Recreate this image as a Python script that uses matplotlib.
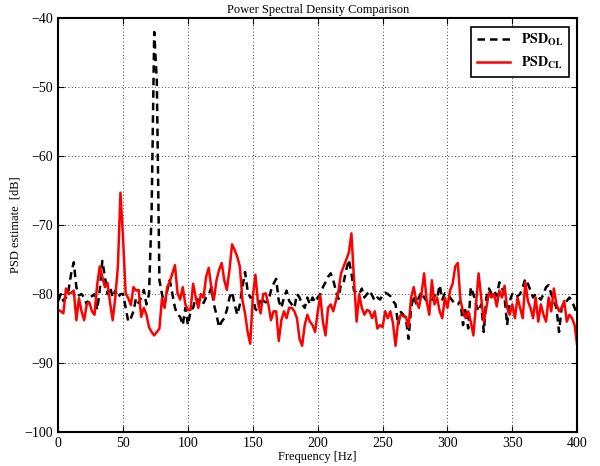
import numpy as np
import matplotlib
matplotlib.use("Agg")
import matplotlib.pyplot as plt

# frequency axis [Hz], 2 Hz bins
freq = np.arange(0, 401, 2)

# open loop PSD [dB]
psd_ol = [
    -81.0, -80.0, -81.0, -80.5, -79.4, -77.0, -75.4, -79.0, -80.2, -80.0,
    -80.5, -81.5, -80.5, -80.3, -80.0, -82.3, -79.5, -75.2, -77.5, -80.0,
    -79.0, -80.5, -79.5, -80.5, -80.0, -80.0, -82.0, -84.0, -83.5, -82.5,
    -80.6, -81.3, -80.5, -79.4, -81.5, -80.0, -68.0, -42.0, -49.0, -78.0,
    -80.0, -81.5, -79.5, -78.0, -80.0, -82.0, -83.0, -83.3, -84.5, -82.0,
    -84.5, -82.5, -82.0, -80.5, -81.0, -80.6, -81.3, -80.5, -80.2, -79.0,
    -81.5, -83.0, -84.8, -84.0, -83.5, -82.3, -80.5, -79.7, -81.5, -83.0,
    -81.5, -79.0, -76.8, -79.5, -80.5, -80.5, -82.2, -82.5, -80.5, -81.0,
    -81.2, -81.0, -79.5, -78.5, -77.8, -81.0, -82.0, -80.5, -79.5, -81.0,
    -81.5, -82.0, -80.0, -80.5, -81.5, -82.0, -80.5, -81.5, -80.5, -81.2,
    -80.5, -80.0, -79.0, -78.3, -77.5, -77.0, -78.0, -79.5, -80.7, -78.5,
    -78.3, -76.5, -75.0, -77.0, -79.5, -79.8, -80.0, -79.2, -80.5, -80.0,
    -79.5, -80.2, -81.0, -80.5, -80.8, -80.2, -79.8, -80.0, -80.3, -81.0,
    -81.5, -84.5, -82.6, -83.0, -83.6, -86.5, -82.0, -80.2, -81.5, -80.5,
    -79.7, -80.5, -81.0, -81.2, -81.0, -80.2, -80.6, -78.7, -80.8, -79.9,
    -80.0, -80.5, -81.0, -81.5, -81.5, -81.0, -84.5, -82.0, -85.0, -79.0,
    -80.0, -81.5, -82.5, -81.5, -85.5, -80.5, -79.2, -80.0, -79.5, -80.3,
    -78.3, -79.0, -80.5, -84.5, -81.0, -80.0, -80.5, -80.3, -80.0, -79.0,
    -77.8, -78.5, -79.5, -80.5, -80.0, -80.5, -80.8, -80.0, -79.0, -78.7,
    -80.0, -81.0, -82.0, -85.5, -82.0, -81.5, -81.0, -80.5, -81.0, -82.0,
    -83.0,
]

# closed loop PSD [dB]
psd_cl = [
    -82.3, -82.5, -82.8, -79.2, -80.0, -79.8, -79.5, -83.8, -80.6, -82.5,
    -83.8, -81.5, -81.2, -82.5, -83.0, -78.7, -76.0, -77.5, -79.0, -78.4,
    -81.3, -83.8, -80.5, -76.0, -65.3, -72.0, -79.9, -80.6, -81.6, -79.0,
    -79.5, -79.4, -83.3, -82.0, -83.0, -84.8, -85.5, -86.0, -85.5, -85.0,
    -80.6, -82.0, -79.0, -78.2, -77.0, -75.8, -79.9, -80.8, -79.0, -81.5,
    -82.3, -82.3, -78.5, -80.5, -82.0, -80.0, -80.5, -77.5, -76.2, -79.0,
    -80.8, -78.0, -76.5, -75.5, -78.0, -79.4, -76.5, -72.8, -73.6, -74.6,
    -76.0, -80.9, -82.8, -85.5, -87.2, -80.4, -77.2, -81.3, -82.8, -80.0,
    -79.9, -81.5, -83.8, -82.5, -82.5, -86.8, -83.8, -82.5, -83.5, -82.0,
    -82.0, -82.5, -83.5, -86.5, -87.5, -84.5, -83.0, -84.0, -84.5, -85.5,
    -82.6, -80.2, -84.0, -86.0, -82.0, -81.5, -82.5, -81.0, -79.5, -77.0,
    -76.0, -75.0, -74.0, -71.2, -78.0, -84.0, -80.0, -82.0, -83.0, -82.3,
    -82.5, -83.5, -82.5, -85.0, -84.5, -84.8, -82.5, -83.5, -82.5, -84.2,
    -87.5, -84.0, -83.0, -83.2, -83.3, -84.8, -80.5, -79.0, -81.0, -82.0,
    -80.0, -77.0, -81.0, -83.0, -78.0, -81.5, -80.5, -82.5, -83.5, -80.5,
    -82.0, -79.5, -78.5, -76.0, -75.5, -80.9, -82.5, -83.5, -82.5, -84.0,
    -86.0, -81.5, -77.0, -80.5, -84.0, -82.0, -79.8, -80.5, -80.0, -81.8,
    -79.5, -80.5, -78.8, -82.0, -83.0, -81.5, -83.5, -80.5, -82.0, -83.5,
    -78.3, -81.0, -82.0, -83.5, -80.5, -84.0, -81.5, -83.0, -84.0, -80.5,
    -82.5, -79.2, -81.5, -82.5, -82.0, -81.0, -84.0, -83.0, -83.5, -84.5,
    -87.5,
]

plt.rcParams['font.family'] = ['Liberation Serif', 'DejaVu Serif']
plt.rcParams['mathtext.fontset'] = 'stix'

fig = plt.figure(figsize=(6.0, 4.66), dpi=100)
ax = fig.add_axes([0.097, 0.073, 0.865, 0.888])

ax.plot(freq, psd_ol, color='black', lw=1.8, linestyle=(0, (3, 2)),
        label=r'$\mathbf{PSD_{OL}}$')
ax.plot(freq, psd_cl, color='red', lw=1.8, label=r'$\mathbf{PSD_{CL}}$')

ax.set_xlim(0, 400)
ax.set_ylim(-100, -40)
ax.set_xticks(np.arange(0, 401, 50))
ax.set_yticks(np.arange(-100, -39, 10))
ax.grid(True, color='black', linestyle=(0, (1, 3)), linewidth=0.6)
ax.tick_params(direction='in', labelsize=10, top=True, right=True, length=4)
for s in ax.spines.values():
    s.set_linewidth(1.5)

ax.set_title('Power Spectral Density Comparison', fontsize=9, pad=4)
ax.set_xlabel('Frequency [Hz]', fontsize=9, labelpad=1)
ax.set_ylabel('PSD estimate  [dB]', fontsize=9, labelpad=2)

leg = ax.legend(loc='upper right', fontsize=10, fancybox=False, framealpha=1,
                edgecolor='black', handlelength=2.4, borderaxespad=0.6)
leg.get_frame().set_linewidth(1.2)

fig.savefig('out.png', dpi=100)
